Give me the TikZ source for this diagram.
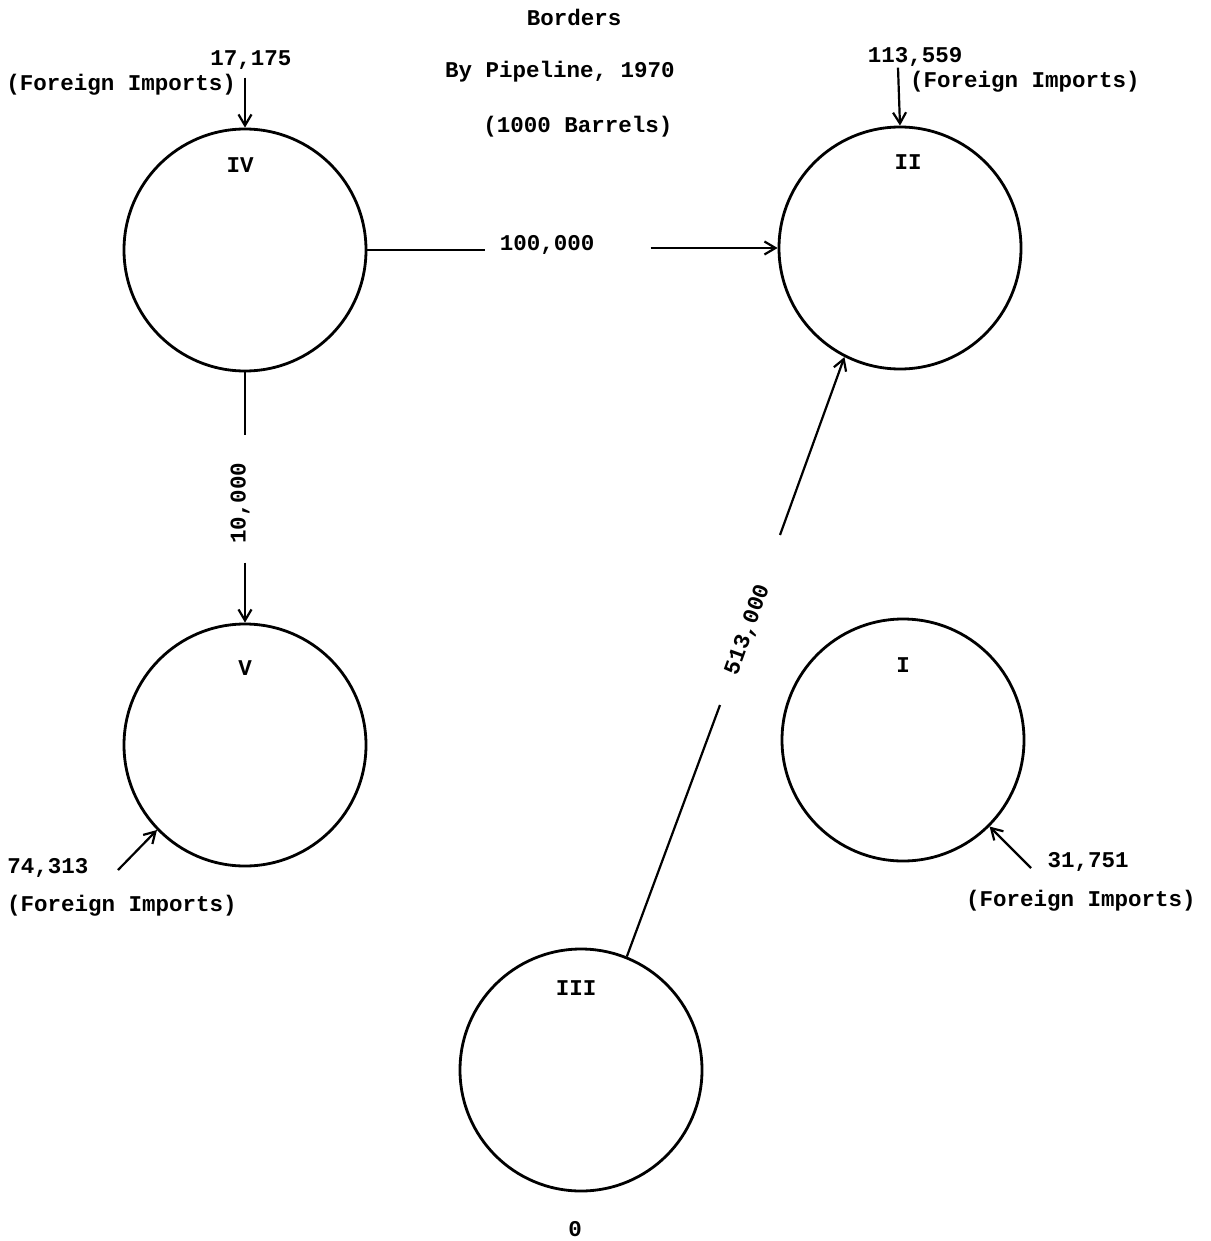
\documentclass[tikz,border=0pt]{standalone}
\usepackage{fontspec}
\setmonofont{Liberation Mono}
\usetikzlibrary{arrows.meta,calc}
\begin{document}
\begin{tikzpicture}[x=1pt,y=-1pt,
  region/.style={draw,circle,line width=2.8pt,minimum size=242pt,inner sep=0pt},
  txt/.style={font=\fontsize{22.5}{26}\selectfont\ttfamily\bfseries,inner sep=0pt},
  flow/.style={line width=2.2pt,-{Straight Barb[length=11pt,width=13pt,line width=2.2pt]}},
  seg/.style={line width=2.2pt}]
\useasboundingbox (0,0) rectangle (1210,1241);
% title
\node[txt] (t1) at (574,17) {Borders};
\node[txt] (t2) at (560,72) {By Pipeline, 1970};
\node[txt] (t3) at (578,127) {(1000 Barrels)};
% regions
\node[region] (IV) at (245,250) {};
\node[region] (II) at (900,248) {};
\node[region] (V) at (245,745) {};
\node[region] (I) at (903,740) {};
\node[region] (III) at (581,1070) {};
% region labels
\node[txt] (lIV) at (240,165) {IV};
\node[txt] (lII) at (908,162) {II};
\node[txt] (lV) at (245,668) {V};
\node[txt] (lI) at (903,665) {I};
\node[txt] (lIII) at (576,988) {III};
% foreign imports IV
\node[txt] (n17) at (251,60) {17,175};
\node[txt,anchor=east] (f4) at (236,85) {(Foreign Imports)};
\coordinate (s17) at ($(IV.north)+(0,-50)$);
\draw[flow] (s17) -- (IV.north);
% foreign imports II
\node[txt] (n113) at (915,57) {113,559};
\node[txt,anchor=west] (f2) at (910,82) {(Foreign Imports)};
\coordinate (s113) at ($(II.north)+(-2,-58)$);
\draw[flow] (s113) -- (II.north);
% foreign imports V
\node[txt] (n74) at (48,868) {74,313};
\node[txt] (f5) at (122,906) {(Foreign Imports)};
\coordinate (s74) at (118,870);
\draw[flow] (s74) -- (V.224);
% foreign imports I
\node[txt] (n31) at (1088,862) {31,751};
\node[txt] (f1) at (1081,901) {(Foreign Imports)};
\coordinate (s31) at (1031,868);
\draw[flow] (s31) -- (I.-45);
% IV -> II : 100,000
\node[txt] (n100) at (547,245) {100,000};
\coordinate (e100) at ($(IV.east)+(118,0)$);
\coordinate (b100) at ($(II.west)+(-127,0)$);
\draw[seg,line width=1.5pt] (IV.east) -- (e100);
\draw[flow] (b100) -- (II.west);
% IV -> V : 10,000
\node[txt,rotate=90] (n10) at (240,503) {10,000};
\coordinate (e10) at ($(IV.south)+(0,63)$);
\coordinate (b10) at ($(V.north)+(0,-60)$);
\draw[seg] (IV.south) -- (e10);
\draw[flow] (b10) -- (V.north);
% III -> II : 513,000
\node[txt,rotate=70] (n513) at (748,630) {513,000};
\coordinate (e513) at (720,705);
\coordinate (b513) at (780,535);
\draw[seg] (III.68) -- (e513);
\draw[flow] (b513) -- (II.243);
% bottom
\node[txt] (n0) at (575,1229) {0};
\end{tikzpicture}
\end{document}
